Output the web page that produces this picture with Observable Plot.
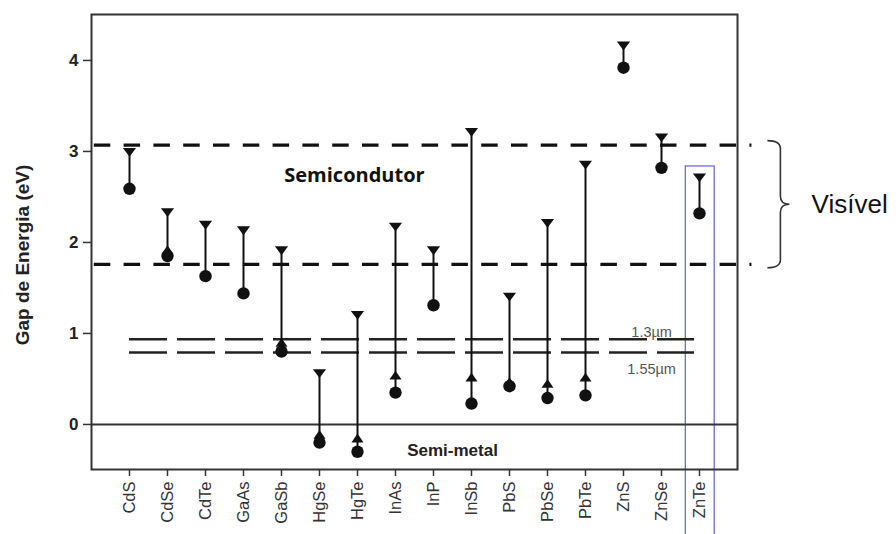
<!DOCTYPE html>
<html>
<head>
<meta charset="utf-8">
<script src="https://cdn.jsdelivr.net/npm/d3@7"></script>
<script src="https://cdn.jsdelivr.net/npm/@observablehq/plot@0.6"></script>
<style>
  html, body { margin: 0; padding: 0; background: #fff; }
</style>
</head>
<body>
<div id="chart"></div>
<script>
// ---- data ----
const categories = ["CdS","CdSe","CdTe","GaAs","GaSb","HgSe","HgTe","InAs","InP","InSb","PbS","PbSe","PbTe","ZnS","ZnSe","ZnTe"];
// upper value (downward triangle)
const gapTop  = [2.99, 2.33, 2.19, 2.13, 1.91, 0.56, 1.20, 2.17, 1.91, 3.21, 1.40, 2.21, 2.85, 4.16, 3.15, 2.71];
// intermediate value (upward triangle), null where absent
const gapUp   = [null, 1.92, null, null, 0.90, -0.11, -0.15, 0.54, null, 0.52, 0.47, 0.45, 0.52, null, null, null];
// lower value (circle)
const gapBulk = [2.59, 1.85, 1.63, 1.44, 0.80, -0.20, -0.30, 0.35, 1.31, 0.23, 0.42, 0.29, 0.32, 3.92, 2.82, 2.32];
const yTicks = [0, 1, 2, 3, 4];
const visibleBounds = [3.07, 1.76];
const telecomLines = [0.935, 0.79];
const telecomLabels = ["1.3µm", "1.55µm"];
const highlighted = "ZnTe";

// ---- table built from arrays ----
const rows = categories.map((name, i) => ({i, name, top: gapTop[i], up: gapUp[i], bulk: gapBulk[i]}));

const triDown = {draw(ctx) { ctx.moveTo(-6.6, -4.3); ctx.lineTo(6.6, -4.3); ctx.lineTo(0, 4.5); ctx.closePath(); }};
const triUp   = {draw(ctx) { ctx.moveTo(-6, 4.3); ctx.lineTo(6, 4.3); ctx.lineTo(0, -4.5); ctx.closePath(); }};

const n = categories.length;
const chart = Plot.plot({
  width: 896,
  height: 534,
  marginLeft: 91,
  marginRight: 159,
  marginTop: 14,
  marginBottom: 65,
  x: {type: "linear", domain: [-1, n], axis: null},
  y: {domain: [-0.495, 4.505], axis: null},
  style: {fontFamily: "'Liberation Sans', Arial, sans-serif", background: "#fff", color: "#222"},
  marks: [
    // highlight box around ZnTe
    Plot.rect(rows.filter(d => d.name === highlighted), {
      x1: d => d.i - 0.36, x2: d => d.i + 0.4, y1: d => d.top + 0.125, y2: -1.4,
      fill: "none", stroke: "#6c6cd2", strokeWidth: 1.3
    }),
    // visible range dashed lines
    Plot.ruleY(visibleBounds, {x1: -1, x2: n + 0.38, stroke: "#111", strokeWidth: 3.2, strokeDasharray: "16.5,13.3", strokeDashoffset: 27}),
    // telecom wavelengths
    Plot.ruleY(telecomLines, {x1: 0, x2: n - 1.13, stroke: "#222", strokeWidth: 2.5, strokeDasharray: "38,10"}),
    Plot.text(telecomLines, {x: n - 2.26, y: d => d, text: (d, i) => telecomLabels[i], fontSize: 14.5, fill: "#555"}),
    // zero line
    Plot.ruleY([0], {stroke: "#333", strokeWidth: 2}),
    // vertical ranges
    Plot.ruleX(rows, {x: "i", y1: "top", y2: "bulk", stroke: "#111", strokeWidth: 2}),
    Plot.dot(rows, {x: "i", y: "top", symbol: triDown, fill: "#111", stroke: "none"}),
    Plot.dot(rows.filter(d => d.up != null), {x: "i", y: "up", symbol: triUp, fill: "#111", stroke: "none"}),
    Plot.dot(rows, {x: "i", y: "bulk", r: 6.2, fill: "#111", stroke: "none"}),
    // region labels
    Plot.text(["Semicondutor"], {x: 5.92, y: 2.736, fontFamily: "'Open Sans'", fontWeight: "bold", fontSize: 20, fill: "#111"}),
    Plot.text(["Semi-metal"], {x: 8.5, y: -0.29, fontWeight: "bold", fontSize: 17, fill: "#222"}),
    Plot.text(["Visível"], {x: n + 1.95, y: (visibleBounds[0] + visibleBounds[1]) / 2, textAnchor: "start", fontSize: 26, fill: "#111"}),
    // axes
    Plot.axisX(d3.range(n), {tickFormat: i => categories[i], tickRotate: -90, tickSize: 7, tickPadding: 5, fontSize: 16.5, fill: "#333", stroke: "#333", strokeWidth: 1.5, label: null}),
    Plot.axisY(yTicks, {tickFormat: d => String(d), tickSize: 8, tickPadding: 5, fontSize: 17, fontWeight: "bold", fill: "#222", stroke: "#333", strokeWidth: 1.5, label: null}),
    Plot.text(["Gap de Energia (eV)"], {frameAnchor: "left", textAnchor: "middle", rotate: -90, dx: -69, dy: 13, fontSize: 19, fontWeight: "bold", fill: "#222"}),
    Plot.frame({stroke: "#333", strokeWidth: 2})
  ]
});

// telecom labels sit above / below their lines
d3.select(chart).selectAll("text").each(function() {
  const t = this.textContent;
  if (t === telecomLabels[0]) d3.select(this).attr("dy", "-0.5em");
  if (t === telecomLabels[1]) d3.select(this).attr("dy", "1.15em");
});

// curly brace for the visible range, placed through the scales
const sx = chart.scale("x"), sy = chart.scale("y");
const yTop = sy.apply(visibleBounds[0]) - 4, yBot = sy.apply(visibleBounds[1]) + 4;
const yMid = (yTop + yBot) / 2;
const x0 = sx.apply(n + 0.8), x1 = x0 + 13, x2 = x0 + 22, r = 8;
const path = d3.path();
path.moveTo(x0, yTop);
path.quadraticCurveTo(x1, yTop, x1, yTop + r);
path.lineTo(x1, yMid - r);
path.quadraticCurveTo(x1, yMid, x2, yMid);
path.quadraticCurveTo(x1, yMid, x1, yMid + r);
path.lineTo(x1, yBot - r);
path.quadraticCurveTo(x1, yBot, x0, yBot);
d3.select(chart).append("path").attr("d", path.toString()).attr("fill", "none").attr("stroke", "#333").attr("stroke-width", 1.6);

document.getElementById("chart").appendChild(chart);
</script>
</body>
</html>
